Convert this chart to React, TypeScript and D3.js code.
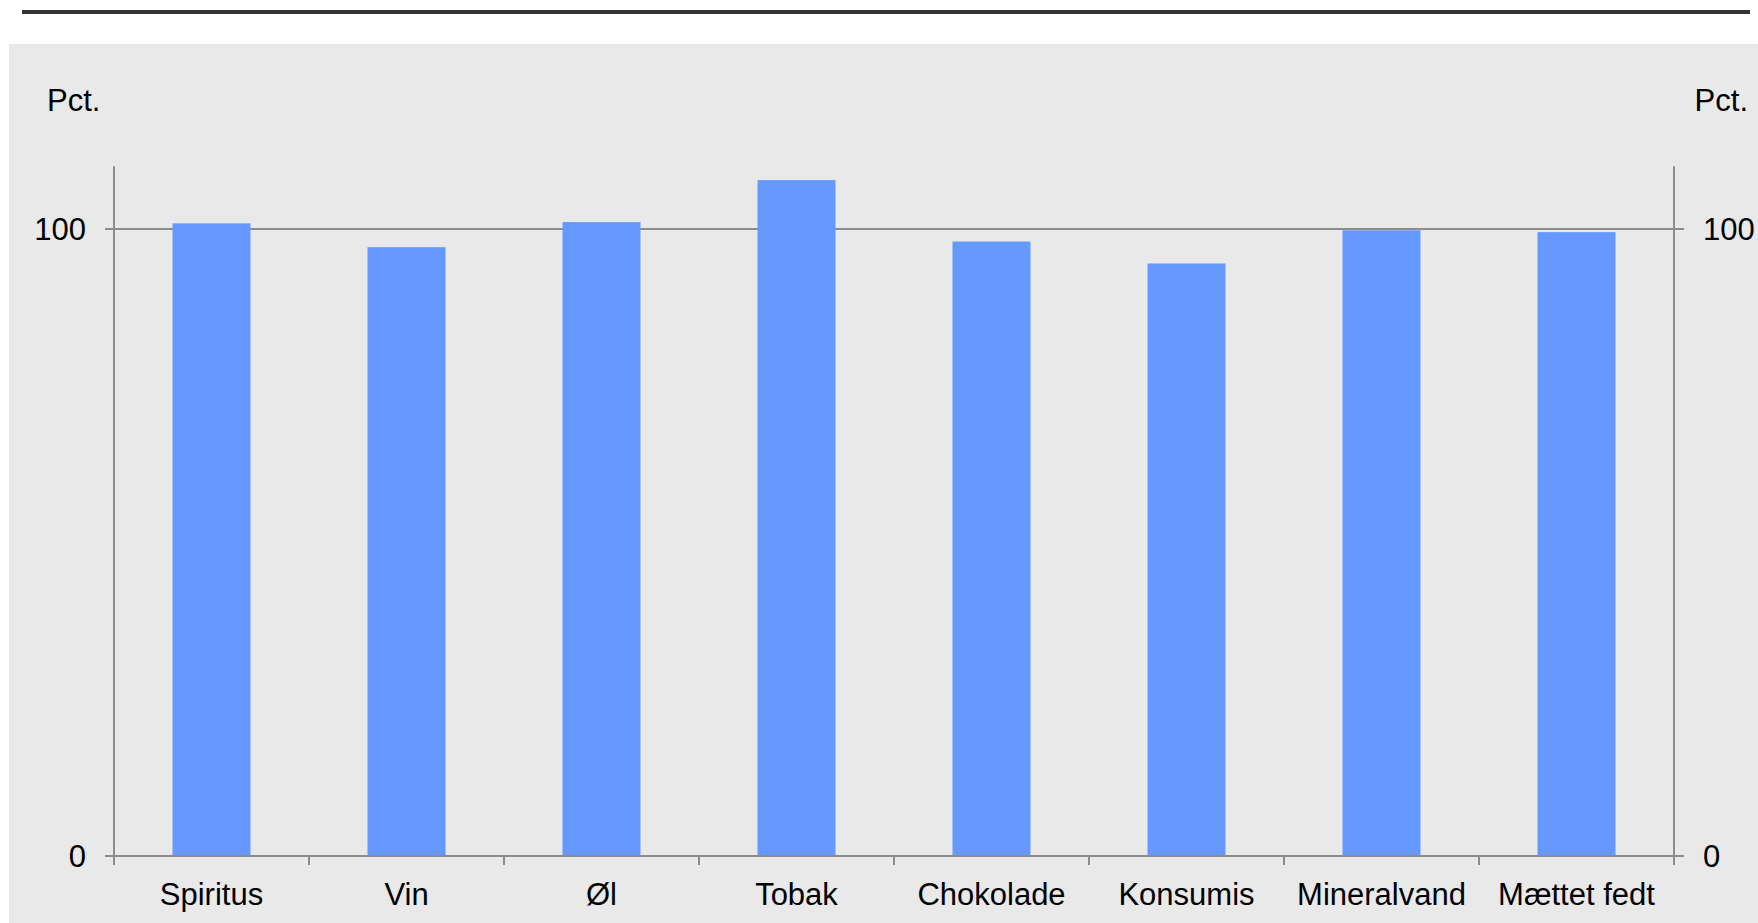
import React, { useEffect, useRef } from 'react';
import * as d3 from 'd3';

const categories = ['Spiritus', 'Vin', 'Øl', 'Tobak', 'Chokolade', 'Konsumis', 'Mineralvand', 'Mættet fedt'];
const values = [100.9, 97.1, 101.1, 107.8, 98.0, 94.5, 99.8, 99.5];
const yTicks = [0, 100];
const unitLabel = 'Pct.';

const W = 1758;
const H = 923;

const App: React.FC = () => {
    const ref = useRef<SVGSVGElement>(null);

    useEffect(() => {
        const svg = d3.select(ref.current);
        svg.selectAll('*').remove();

        const left = 114;
        const right = 1674;
        const top = 167;
        const bottom = 856;
        const font = 'Arial, "Liberation Sans", sans-serif';
        const axisColor = '#8c8c8c';

        // top rule and grey panel
        svg.append('rect').attr('x', 22).attr('y', 10).attr('width', 1728).attr('height', 4).attr('fill', '#333333');
        svg.append('rect').attr('x', 9).attr('y', 44).attr('width', W - 9).attr('height', H - 44).attr('fill', '#e9e9e9');

        const x = d3.scaleBand<string>().domain(categories).range([left, right]).paddingInner(0.6).paddingOuter(0.3);
        const xb = d3.scaleBand<string>().domain(categories).range([left, right]);
        const y = d3.scaleLinear().domain([0, 110]).range([bottom, bottom - (bottom - 229) * 1.1]);

        // gridline at 100
        svg.append('line')
            .attr('x1', left - 9).attr('x2', right + 10)
            .attr('y1', y(100)).attr('y2', y(100))
            .attr('stroke', axisColor).attr('stroke-width', 2);

        svg.append('g').selectAll('rect')
            .data(values)
            .enter().append('rect')
            .attr('x', (_, i) => x(categories[i]) as number)
            .attr('width', x.bandwidth())
            .attr('y', d => y(d))
            .attr('height', d => y(0) - y(d))
            .attr('fill', '#6699ff');

        // axes
        const g = svg.append('g').attr('stroke', axisColor).attr('stroke-width', 2);
        g.append('line').attr('x1', left).attr('x2', left).attr('y1', y(110)).attr('y2', bottom + 9);
        g.append('line').attr('x1', right).attr('x2', right).attr('y1', y(110)).attr('y2', bottom + 9);
        g.append('line').attr('x1', left - 9).attr('x2', right + 10).attr('y1', bottom).attr('y2', bottom);
        categories.slice(1).forEach(c => {
            const xx = xb(c) as number;
            g.append('line').attr('x1', xx).attr('x2', xx).attr('y1', bottom).attr('y2', bottom + 9);
        });

        const txt = svg.append('g').attr('font-family', font).attr('font-size', 31).attr('fill', '#000');
        yTicks.forEach(t => {
            txt.append('text').attr('x', 86).attr('y', y(t)).attr('dy', '0.35em').attr('text-anchor', 'end').text(String(t));
            txt.append('text').attr('x', 1703).attr('y', y(t)).attr('dy', '0.35em').attr('text-anchor', 'start').text(String(t));
        });
        categories.forEach(c => {
            txt.append('text')
                .attr('x', (xb(c) as number) + xb.bandwidth() / 2)
                .attr('y', 905)
                .attr('text-anchor', 'middle')
                .text(c);
        });
        txt.append('text').attr('x', 47).attr('y', 111).text(unitLabel);
        txt.append('text').attr('x', 1748).attr('y', 111).attr('text-anchor', 'end').text(unitLabel);
    }, []);

    return (
        <div style={{ position: 'fixed', left: 0, top: 0 }}>
            <svg ref={ref} width={W} height={H} style={{ display: 'block' }}></svg>
        </div>
    );
};

export default App;
